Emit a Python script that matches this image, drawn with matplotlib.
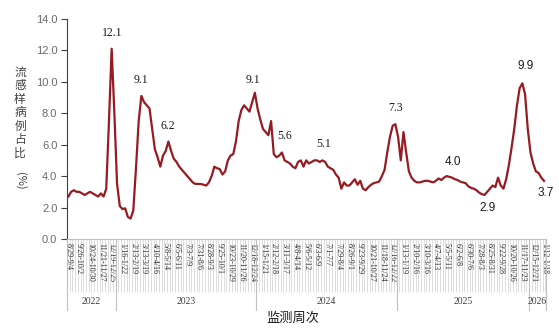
import numpy as np
import matplotlib
matplotlib.use("Agg")
import matplotlib.pyplot as plt

plt.rcParams['font.family'] = ['Noto Sans CJK SC', 'DejaVu Sans']

# weekly ILI percentage, 2022-08-29 week through 2026-01-12 week
values = [
    2.7, 3.0, 3.1, 3.0, 3.0, 2.9, 2.8, 2.9, 3.0, 2.9,
    2.8, 2.7, 2.9, 2.7, 3.2, 7.5, 12.1, 8.0, 3.5, 2.1,
    1.9, 1.95, 1.4, 1.3, 1.8, 4.5, 7.5, 9.1, 8.7, 8.5,
    8.3, 7.0, 5.7, 5.2, 4.6, 5.3, 5.6, 6.2, 5.6, 5.1,
    4.9, 4.6, 4.4, 4.2, 4.0, 3.8, 3.6, 3.5, 3.5, 3.5,
    3.45, 3.4, 3.6, 4.0, 4.6, 4.5, 4.45, 4.1, 4.3, 5.0,
    5.3, 5.4, 6.2, 7.5, 8.2, 8.5, 8.3, 8.1, 8.7, 9.3,
    8.3, 7.6, 7.0, 6.8, 6.6, 7.5, 5.4, 5.2, 5.3, 5.5,
    5.0, 4.9, 4.8, 4.6, 4.5, 4.9, 5.0, 4.6, 5.0, 4.8,
    4.9, 5.0, 5.0, 4.9, 5.0, 4.9, 4.6, 4.5, 4.4, 4.1,
    3.9, 3.2, 3.6, 3.4, 3.4, 3.6, 3.8, 3.45, 3.7, 3.2,
    3.1, 3.3, 3.45, 3.55, 3.6, 3.65, 4.0, 4.4, 5.5, 6.5,
    7.2, 7.3, 6.5, 5.0, 6.8, 5.5, 4.3, 3.9, 3.7, 3.6,
    3.6, 3.65, 3.7, 3.7, 3.65, 3.6, 3.7, 3.85, 3.75, 3.9,
    4.0, 3.95, 3.9, 3.8, 3.75, 3.65, 3.6, 3.55, 3.35, 3.25,
    3.2, 3.1, 2.95, 2.85, 2.8, 3.0, 3.2, 3.4, 3.3, 3.9,
    3.4, 3.2, 3.8, 4.7, 5.8, 7.0, 8.5, 9.6, 9.9, 9.2,
    7.0, 5.5, 4.8, 4.3, 4.2, 3.9, 3.7,
]

week_labels = [
    "8/29-9/4", "9/26-10/2", "10/24-10/30", "11/21-11/27", "12/19-12/25",
    "1/16-1/22", "2/13-2/19", "3/13-3/19", "4/10-4/16", "5/8-5/14",
    "6/5-6/11", "7/3-7/9", "7/31-8/6", "8/28-9/3", "9/25-10/1",
    "10/23-10/29", "11/20-11/26", "12/18-12/24", "1/15-1/21", "2/12-2/18",
    "3/11-3/17", "4/8-4/14", "5/6-5/12", "6/3-6/9", "7/1-7/7",
    "7/29-8/4", "8/26-9/1", "9/23-9/29", "10/21-10/27", "11/18-11/24",
    "12/16-12/22", "1/13-1/19", "2/10-2/16", "3/10-3/16", "4/7-4/13",
    "5/5-5/11", "6/2-6/8", "6/30-7/6", "7/28-8/3", "8/25-8/31",
    "9/22-9/28", "10/20-10/26", "11/17-11/23", "12/15-12/21", "1/12-1/18",
]

years = ["2022", "2023", "2024", "2025", "2026"]
year_bounds = [-0.4, 17.5, 69.5, 121.5, 170.5, 176.8]

ann_text = ["12.1", "9.1", "6.2", "9.1", "5.6", "5.1", "7.3", "4.0", "2.9", "9.9", "3.7"]
ann_x = [16.2, 26.8, 36.7, 68.3, 79.9, 94.4, 121.2, 142.4, 155.0, 169.1, 176.6]
ann_y = [13.1, 10.1, 7.2, 10.1, 6.55, 6.05, 8.3, 4.9, 2.0, 11.0, 2.9]
ann_serif = [True, True, True, True, True, True, True, False, False, False, False]

fig = plt.figure(figsize=(5.59, 3.31), dpi=100)
ax = fig.add_axes([0.120, 0.278, 0.857, 0.665])

x = np.arange(len(values))
ax.plot(x, values, color='#961b22', lw=1.6, solid_joinstyle='round')

ax.set_xlim(year_bounds[0], year_bounds[-1])
ax.set_ylim(0, 14)
ax.set_yticks(np.arange(0, 14.1, 2))
ax.set_yticklabels([f"{v:.1f}" for v in np.arange(0, 14.1, 2)],
                   fontsize=8, color='#6a6a6a', family='Liberation Sans')
ax.tick_params(axis='y', length=4, width=0.8, color='#404040', pad=3)

for s in ['top', 'right']:
    ax.spines[s].set_visible(False)
ax.spines['left'].set_color('#404040')
ax.spines['bottom'].set_color('#bfbfbf')

# weekly comb ticks
ax.set_xticks(np.arange(-0.5, len(values), 1))
ax.set_xticklabels([])
ax.tick_params(axis='x', which='major', length=38, width=0.5, color='#d0d0d0')
# labelled weeks
ax.set_xticks(np.arange(0, len(values), 4), minor=True)
ax.set_xticklabels(week_labels, minor=True, rotation=270, fontsize=5.8,
                   color='#303030', family='Liberation Serif')
ax.tick_params(axis='x', which='minor', length=0, pad=3)

trans = ax.get_xaxis_transform()
for b in year_bounds:
    ax.plot([b, b], [0, -0.323], transform=trans, clip_on=False,
            color='#bfbfbf', lw=0.8)
for i, yr in enumerate(years):
    xc = (year_bounds[i] + year_bounds[i + 1]) / 2
    ax.text(xc, -0.286, yr, transform=trans, ha='center', va='center',
            fontsize=7, color='#404040', family='Liberation Serif')

for t, ax_, ay, serif in zip(ann_text, ann_x, ann_y, ann_serif):
    ax.text(ax_, ay, t, ha='center', va='center', fontsize=8.5,
            color='#1a1a1a',
            family='Liberation Serif' if serif else 'Liberation Sans')

fig.text(293 / 559, 1 - 318 / 331, "监测周次", ha='center', va='center',
         fontsize=9.5, color='#1a1a1a')

ylabel_chars = "流感样病例占比"
for i, ch in enumerate(ylabel_chars):
    fig.text(20 / 559, 1 - (72 + i * 13.6) / 331, ch, ha='center', va='center',
             fontsize=8.5, color='#404040')
fig.text(20 / 559, 1 - 181 / 331, "(%)", ha='center', va='center',
         fontsize=8, color='#404040', rotation=270)

fig.savefig("out.png", dpi=100)
